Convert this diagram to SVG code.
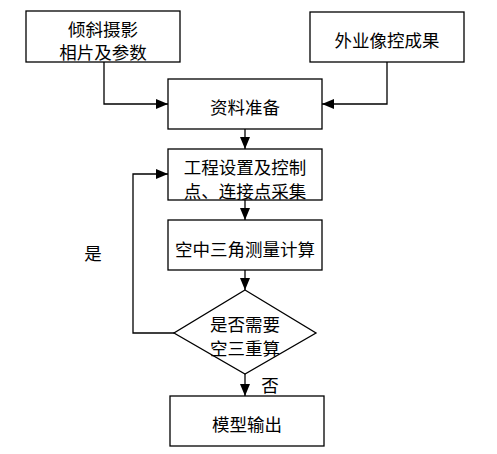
<svg xmlns="http://www.w3.org/2000/svg" width="497" height="454" viewBox="0 0 497 454">
<style>
.box{fill:#fff;stroke:#000;stroke-width:1.3}
.ln{fill:none;stroke:#000;stroke-width:1.3}
text{font-family:"Noto Sans CJK SC","Noto Sans",sans-serif;font-size:17.5px;fill:#000;text-anchor:middle;dominant-baseline:central}
</style>
<defs>
<marker id="ah" viewBox="0 0 12 10" refX="12" refY="5" markerWidth="12" markerHeight="10" markerUnits="userSpaceOnUse" orient="auto">
<path d="M0,0 L12,5 L0,10 Z" fill="#000"/>
</marker>
</defs>
<rect width="497" height="454" fill="#fff"/>
<g id="connectors">
<path class="ln" d="M104,62 V104 H168" marker-end="url(#ah)"/>
<path class="ln" d="M387,62 V104 H322" marker-end="url(#ah)"/>
<path class="ln" d="M245,129 V149" marker-end="url(#ah)"/>
<path class="ln" d="M245,200 V220" marker-end="url(#ah)"/>
<path class="ln" d="M245,270 V290" marker-end="url(#ah)"/>
<path class="ln" d="M174,333 H133 V174 H168" marker-end="url(#ah)"/>
<path class="ln" d="M245,374 V396" marker-end="url(#ah)"/>
<text x="93" y="252">是</text>
<text x="270" y="384">否</text>
</g>
<g id="n1"><rect class="box" x="26" y="11" width="154" height="51"/><text x="103" y="28">倾斜摄影</text><text x="103" y="51">相片及参数</text></g>
<g id="n2"><rect class="box" x="310" y="12" width="154" height="50"/><text x="387" y="39">外业像控成果</text></g>
<g id="n3"><rect class="box" x="168" y="79" width="154" height="50"/><text x="245" y="106">资料准备</text></g>
<g id="n4"><rect class="box" x="168" y="149" width="154" height="51"/><text x="245" y="166">工程设置及控制</text><text x="245" y="190">点、连接点采集</text></g>
<g id="n5"><rect class="box" x="168" y="220" width="154" height="50"/><text x="245" y="248">空中三角测量计算</text></g>
<g id="n6"><polygon class="box" points="245,290 316,333 245,374 174,333"/><text x="245" y="323">是否需要</text><text x="245" y="347">空三重算</text></g>
<g id="n7"><rect class="box" x="170" y="396" width="154" height="50"/><text x="247" y="423">模型输出</text></g>
</svg>
